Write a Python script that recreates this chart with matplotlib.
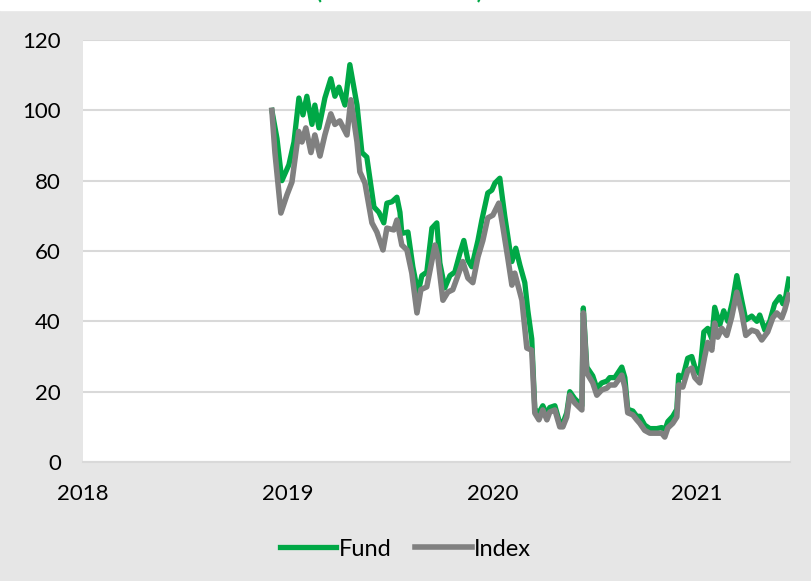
import matplotlib.pyplot as plt
from matplotlib.patches import Rectangle

# decimal years / rebased values
fund_t = [2018.923, 2018.948, 2018.972, 2019.006, 2019.031, 2019.055, 2019.075, 2019.094,
          2019.119, 2019.133, 2019.153, 2019.182, 2019.211, 2019.231, 2019.251, 2019.280,
          2019.304, 2019.339, 2019.363, 2019.387, 2019.422, 2019.446, 2019.470, 2019.485,
          2019.510, 2019.534, 2019.549, 2019.558, 2019.588, 2019.612, 2019.637, 2019.656,
          2019.680, 2019.705, 2019.729, 2019.744, 2019.768, 2019.793, 2019.817, 2019.842,
          2019.861, 2019.881, 2019.900, 2019.930, 2019.949, 2019.978, 2019.998, 2020.013,
          2020.037, 2020.061, 2020.086, 2020.096, 2020.115, 2020.135, 2020.159, 2020.174,
          2020.193, 2020.208, 2020.228, 2020.247, 2020.267, 2020.281, 2020.306, 2020.330,
          2020.345, 2020.364, 2020.379, 2020.403, 2020.438, 2020.445, 2020.462, 2020.491,
          2020.511, 2020.535, 2020.560, 2020.574, 2020.599, 2020.633, 2020.648, 2020.662,
          2020.687, 2020.706, 2020.721, 2020.745, 2020.770, 2020.804, 2020.828, 2020.843,
          2020.858, 2020.882, 2020.902, 2020.911, 2020.931, 2020.955, 2020.975, 2020.990,
          2021.014, 2021.034, 2021.053, 2021.073, 2021.087, 2021.112, 2021.131, 2021.151,
          2021.175, 2021.195, 2021.219, 2021.239, 2021.268, 2021.293, 2021.307, 2021.332,
          2021.356, 2021.380, 2021.405, 2021.420, 2021.434, 2021.449]
fund_v = [100, 92, 80, 84.5, 91, 103.5, 98.7, 104,
          96, 101.5, 95, 103.5, 109, 104, 106.6, 101.5,
          113, 101.5, 88, 86.7, 72.5, 71, 68, 73.6,
          74, 75.3, 71, 65, 65.4, 55.5, 48, 53,
          54, 66.5, 68, 56.6, 49.5, 53, 54, 59.4,
          63, 57.4, 55.5, 63, 68.8, 76.5, 77.3, 79.3,
          80.7, 70, 60.3, 57, 60.8, 56, 51, 43,
          35, 15, 14, 16, 13.5, 15.5, 16, 11,
          11, 14, 20, 18, 16, 43.8, 27, 24.5,
          21, 22.5, 23, 24, 24, 27, 24, 15,
          14.5, 13, 13, 10.5, 9.5, 9.5, 9.8, 9,
          11.5, 13, 15, 24.7, 24, 29.5, 30, 27,
          25, 37, 38, 35, 44, 39, 43, 40,
          46, 53, 46, 40.4, 41.5, 40, 41.8, 37.5,
          40, 45, 47, 45, 47, 52]

index_t = [2018.923, 2018.938, 2018.967, 2018.997, 2019.021, 2019.054, 2019.070, 2019.089,
           2019.114, 2019.133, 2019.158, 2019.182, 2019.211, 2019.231, 2019.255, 2019.290,
           2019.309, 2019.339, 2019.353, 2019.378, 2019.412, 2019.436, 2019.466, 2019.485,
           2019.519, 2019.534, 2019.558, 2019.583, 2019.607, 2019.632, 2019.651, 2019.680,
           2019.720, 2019.734, 2019.759, 2019.783, 2019.807, 2019.832, 2019.856, 2019.881,
           2019.905, 2019.930, 2019.954, 2019.978, 2020.003, 2020.032, 2020.052, 2020.076,
           2020.096, 2020.110, 2020.145, 2020.169, 2020.193, 2020.208, 2020.228, 2020.247,
           2020.267, 2020.281, 2020.306, 2020.330, 2020.345, 2020.364, 2020.379, 2020.403,
           2020.438, 2020.445, 2020.462, 2020.491, 2020.511, 2020.535, 2020.560, 2020.574,
           2020.599, 2020.633, 2020.648, 2020.662, 2020.687, 2020.706, 2020.721, 2020.745,
           2020.770, 2020.804, 2020.828, 2020.843, 2020.858, 2020.882, 2020.902, 2020.911,
           2020.931, 2020.955, 2020.975, 2020.990, 2021.014, 2021.038, 2021.053, 2021.073,
           2021.087, 2021.102, 2021.122, 2021.146, 2021.170, 2021.195, 2021.219, 2021.239,
           2021.268, 2021.293, 2021.317, 2021.346, 2021.371, 2021.390, 2021.415, 2021.429,
           2021.449]
index_v = [100, 88, 70.8, 76, 79.6, 94, 91, 95,
           88, 93, 87, 93, 99, 96, 97, 93,
           103, 91, 82.5, 79.3, 68, 65.4, 60.3, 66.5,
           66, 68.8, 61.7, 60.3, 53.7, 42.4, 49, 49.8,
           61.7, 58.3, 46, 48.3, 49, 53, 57, 52.3,
           51, 58.3, 63, 69.4, 70.2, 73.6, 66.8, 58,
           50.3, 53.7, 46, 32.4, 31.8, 13.9, 12, 14.8,
           12, 14.2, 14.8, 10, 10, 12.8, 19, 16.8,
           14.8, 42.4, 25.3, 22.5, 19, 20.5, 21, 21.9,
           21.9, 24.7, 21.3, 14, 13.4, 12, 11, 9,
           8.2, 8.2, 8.2, 7.1, 9.7, 11, 12.8, 21.9,
           21.3, 26, 26.7, 24, 22.5, 29.9, 34, 31.8,
           39.5, 35.5, 38, 36, 41.2, 48.3, 42.4, 36,
           37.5, 37, 34.7, 37, 41, 42.4, 41, 43.2,
           47.5]

years = [2018, 2019, 2020, 2021]
y_ticks = [0, 20, 40, 60, 80, 100, 120]

GREEN = '#00a846'
GREY = '#808080'
BG = '#e6e6e6'

plt.rcParams['font.family'] = ['Lato', 'DejaVu Sans']

fig = plt.figure(figsize=(8.11, 5.81), dpi=100, facecolor=BG)
# white strip along the top edge
fig.patches.append(Rectangle((0, 1 - 10 / 581), 1, 1, transform=fig.transFigure,
                             color='white', zorder=0))
# title sits above the crop in the original: only the bottoms of the brackets show
fig.text(0.493, 1 + 1.5 / 581, '(Rebased to 100)', color=GREEN, fontsize=16,
         fontweight='bold', ha='center', va='baseline')

ax = fig.add_axes([83 / 811, 1 - 462 / 581, 707 / 811, 422 / 581])
ax.set_facecolor('white')

ax.plot(index_t, index_v, color=GREY, lw=4, label='Index', zorder=3,
        solid_joinstyle='round')
ax.plot(fund_t, fund_v, color=GREEN, lw=3.8, label='Fund', zorder=2,
        solid_joinstyle='round')

ax.set_xlim(2018, 2021.455)
ax.set_ylim(0, 120)
ax.set_xticks(years)
ax.set_yticks(y_ticks)
ax.grid(axis='y', color='#d9d9d9', lw=1.5)
ax.set_axisbelow(True)
for s in ['top', 'right', 'left']:
    ax.spines[s].set_visible(False)
ax.spines['bottom'].set_color('#d9d9d9')
ax.spines['bottom'].set_linewidth(1.5)
ax.tick_params(length=0, labelsize=16)
ax.tick_params(axis='y', pad=16)
ax.tick_params(axis='x', pad=16)

h, l = ax.get_legend_handles_labels()
fig.legend(h[::-1], l[::-1], loc='center', bbox_to_anchor=(0.5, 1 - 549 / 581),
           ncol=2, frameon=False, fontsize=17, handlelength=2.4,
           handletextpad=0.1, columnspacing=1.0)

fig.savefig('out.png', dpi=100, facecolor=BG)
